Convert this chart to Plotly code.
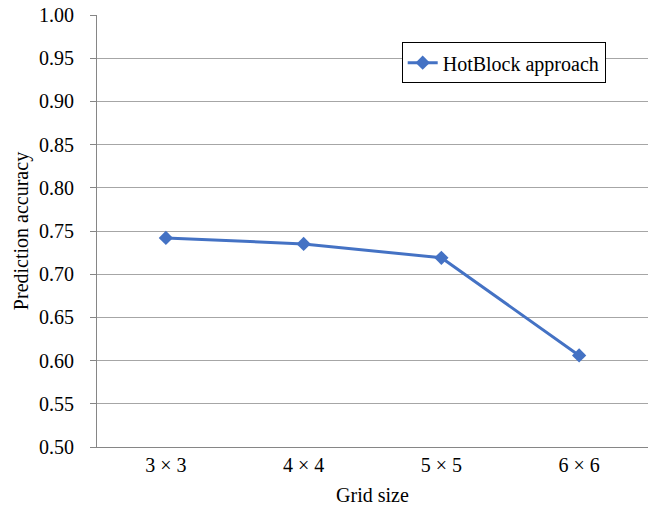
import plotly.graph_objects as go

categories = ["3 × 3", "4 × 4", "5 × 5", "6 × 6"]
accuracy = [0.742, 0.735, 0.719, 0.606]
series_name = "HotBlock approach"
y_ticks = [0.50, 0.55, 0.60, 0.65, 0.70, 0.75, 0.80, 0.85, 0.90, 0.95, 1.00]

FONT = "Liberation Serif"

fig = go.Figure()
fig.add_trace(go.Scatter(
    x=categories, y=accuracy, name=series_name, mode="lines+markers",
    line=dict(color="#4472C4", width=3),
    marker=dict(symbol="diamond", size=11, color="#4472C4"),
))

fig.update_layout(
    width=651, height=511,
    margin=dict(l=97, r=3, t=15, b=64),
    paper_bgcolor="white", plot_bgcolor="white",
    font=dict(family=FONT, size=20, color="black"),
    showlegend=True,
    legend=dict(x=0.553, y=0.937, xanchor="left", yanchor="top",
                bordercolor="black", borderwidth=1, bgcolor="white",
                font=dict(family=FONT, size=20, color="black")),
    xaxis=dict(
        title=dict(text="Grid size", font=dict(family=FONT, size=20), standoff=12),
        range=[-0.5, 3.5],
        showline=True, linecolor="#868686", linewidth=1,
        showgrid=False, ticks="", tickfont=dict(family=FONT, size=20),
        ticklabelstandoff=0,
    ),
    yaxis=dict(
        title=dict(text="Prediction accuracy", font=dict(family=FONT, size=20), standoff=5),
        range=[0.5, 1.0], tickvals=y_ticks, ticktext=[f"{v:.2f}" for v in y_ticks],
        showline=True, linecolor="#868686", linewidth=1,
        showgrid=True, gridcolor="#A6A6A6", gridwidth=1,
        ticks="outside", ticklen=6, tickcolor="#868686",
        tickfont=dict(family=FONT, size=20), ticklabelstandoff=12,
        zeroline=False,
    ),
)

fig.write_html("out.html")
